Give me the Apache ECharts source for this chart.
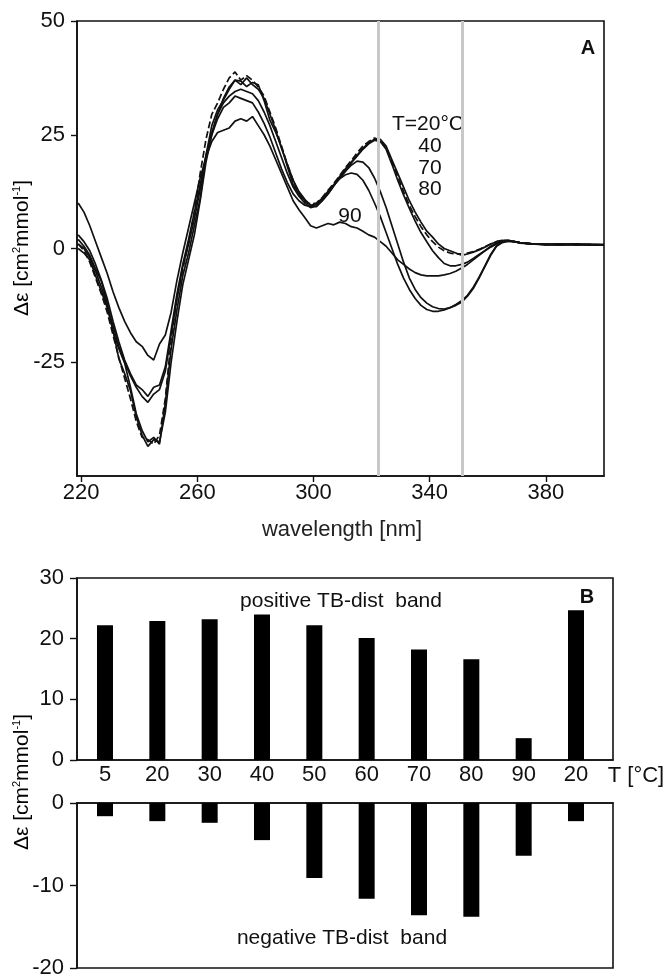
<!DOCTYPE html>
<html>
<head>
<meta charset="utf-8">
<script src="https://cdn.jsdelivr.net/npm/echarts@6/dist/echarts.min.js"></script>
<style>
html,body{margin:0;padding:0;background:#fff;}
#c{width:665px;height:979px;}
</style>
</head>
<body>
<div id="c"></div>
<script>
// ---------- Panel A data ----------
const wl = [219,221,223,225,227,229,231,233,235,237,239,241,243,245,247,249,251,253,255,257,259,261,263,265,267,269,271,273,275,277,279,281,283,285,287,289,291,293,295,297,299,301,303,305,307,309,311,313,315,317,319,321,323,325,327,329,331,333,335,337,339,341,343,345,347,349,351,353,355,357,359,361,363,365,367,369,371,375,380,385,390,395,400];

const cd20 = [2.0,0.5,-1.5,-4.5,-7.2,-12.0,-18.3,-22.0,-25.2,-30.5,-36.3,-40.0,-42.5,-41.5,-43.0,-34.0,-22.0,-13.5,-6.0,-1.0,5.0,11.0,20.5,27.0,30.5,32.6,35.0,37.0,36.8,35.6,36.5,36.0,32.5,28.2,25.5,22.3,18.0,14.0,12.0,10.5,9.5,9.8,11.0,12.5,14.0,15.8,17.5,19.0,20.5,22.0,23.2,24.0,24.0,22.5,19.5,16.5,13.5,10.5,8.0,5.8,3.8,2.5,1.0,0.0,-0.5,-1.0,-1.5,-1.2,-0.8,-0.3,0.3,1.0,1.5,1.8,1.7,1.5,1.2,1.0,0.9,0.8,1.0,0.8,0.8];

const cd40 = [0.0,-1.0,-2.5,-6.0,-9.5,-13.0,-18.0,-24.2,-27.5,-31.2,-37.0,-41.0,-43.5,-42.0,-42.5,-36.0,-25.0,-16.0,-8.0,-2.5,3.0,10.5,19.0,25.0,29.5,33.0,35.5,37.0,36.0,37.5,36.0,35.0,33.0,29.5,26.0,22.0,18.5,15.0,12.5,10.8,9.5,9.2,10.5,12.0,13.8,15.5,17.0,18.8,20.3,21.8,23.0,23.8,23.5,21.8,18.5,15.0,11.8,8.8,6.0,3.5,1.5,-0.5,-2.0,-3.3,-3.8,-3.8,-3.5,-3.0,-2.2,-1.3,-0.5,0.5,1.2,1.6,1.8,1.6,1.3,1.0,0.8,1.0,0.8,0.9,0.8];

const cd70 = [1.0,0.0,-2.0,-5.0,-8.5,-12.5,-17.0,-21.5,-25.0,-28.0,-30.5,-32.5,-33.8,-32.0,-31.0,-27.0,-19.0,-11.0,-4.0,1.0,6.5,13.0,20.0,25.5,29.5,32.0,33.5,34.5,35.0,34.5,34.0,32.5,30.0,27.0,23.5,20.0,16.5,13.5,11.5,10.0,9.0,9.3,10.5,12.0,13.8,15.5,17.0,18.3,19.2,19.0,17.8,15.5,12.5,9.0,5.0,1.0,-3.0,-6.5,-9.0,-10.8,-12.0,-12.8,-13.2,-13.3,-13.0,-12.5,-11.8,-10.5,-8.8,-6.5,-4.0,-1.5,0.5,1.3,1.6,1.5,1.3,1.1,0.9,0.8,1.0,0.8,0.9];

const cd80 = [3.0,1.5,-0.5,-3.5,-7.0,-11.0,-16.0,-20.5,-24.5,-27.5,-30.0,-31.0,-32.5,-30.5,-30.0,-26.0,-18.0,-10.0,-3.5,2.0,8.0,14.0,20.5,25.0,28.5,31.0,32.0,33.5,33.0,32.5,32.0,30.0,27.5,24.5,21.0,17.5,14.5,12.0,10.5,9.5,9.2,9.8,11.0,12.5,14.0,15.3,16.2,16.6,16.3,15.0,12.8,10.0,7.0,3.5,0.0,-3.5,-6.5,-9.0,-11.0,-12.5,-13.4,-13.8,-13.8,-13.5,-13.0,-12.3,-11.5,-10.3,-8.5,-6.3,-3.8,-1.3,0.6,1.4,1.7,1.5,1.3,1.0,0.9,1.0,0.8,0.9,0.8];

const cd90 = [10.0,8.0,5.0,1.5,-2.0,-5.5,-9.5,-13.0,-16.0,-18.5,-20.5,-21.5,-23.5,-24.5,-21.0,-19.0,-14.0,-7.0,-1.0,4.5,10.0,15.5,20.0,23.5,25.5,26.0,26.5,28.0,28.5,28.0,29.0,27.0,25.0,22.5,19.5,16.5,13.5,10.5,8.5,6.8,5.0,4.5,5.0,5.5,5.2,5.8,5.5,4.8,4.5,3.8,3.0,2.5,1.5,0.5,-1.0,-2.5,-3.5,-4.5,-5.3,-5.8,-6.0,-6.0,-6.0,-5.8,-5.5,-5.0,-4.3,-3.5,-2.5,-1.5,-0.5,0.3,1.0,1.5,1.6,1.5,1.3,1.0,0.9,0.8,0.9,0.8,0.8];

const cdDashed = [1.0,-0.5,-3.0,-6.5,-10.0,-14.0,-19.0,-24.0,-28.5,-33.0,-38.0,-41.5,-42.0,-43.0,-41.0,-33.0,-20.0,-11.0,-4.5,1.0,8.0,16.5,24.0,29.5,32.0,35.0,37.5,38.8,37.0,38.0,37.0,35.5,33.5,30.0,26.5,22.5,18.5,15.0,12.0,10.3,9.8,10.0,11.2,12.8,14.3,16.0,17.8,19.3,21.0,22.5,23.5,24.3,23.8,22.0,19.0,15.8,12.5,9.5,7.0,4.8,3.0,1.5,0.3,-0.5,-1.0,-1.2,-1.2,-1.0,-0.7,-0.2,0.4,1.0,1.5,1.8,1.8,1.5,1.3,1.0,0.9,0.9,0.8,0.9,0.8];

const grayLines = [322.3, 351.1];
const xTicksA = [220, 260, 300, 340, 380];
const yTicksA = [-25, 0, 25, 50];

// ---------- Panel B data ----------
const tempCats = ['5','20','30','40','50','60','70','80','90','20'];
const posBand = [22.2, 22.9, 23.2, 24.0, 22.2, 20.1, 18.2, 16.6, 3.6, 24.7];
const negBand = [-1.6, -2.2, -2.4, -4.5, -9.1, -11.6, -13.6, -13.8, -6.4, -2.2];

const FONT = 'Liberation Sans, Arial, Helvetica, sans-serif';
const BLACK = '#111';

const chart = echarts.init(document.getElementById('c'), null, {renderer:'canvas'});

function lineSeries(vals, dashed){
  return {
    type:'line', xAxisIndex:0, yAxisIndex:0, showSymbol:false, symbol:'none',
    data: wl.map((w,i)=>[w, vals[i]]),
    lineStyle:{color:BLACK, width:1.7, type: dashed ? [7,3] : 'solid'},
    z:3, silent:true, animation:false
  };
}

const ylabelRich = {
  a:{fontSize:21, fontFamily:FONT, color:'#222'},
  s:{fontSize:11, fontFamily:FONT, color:'#222', padding:[0,0,10,0]}
};

const axLine = {show:true, onZero:false, lineStyle:{color:BLACK, width:1.6}};

const option = {
  animation:false,
  backgroundColor:'#fff',
  grid:[
    {left:77, top:21, width:527, height:455, show:true, borderColor:BLACK, borderWidth:1.6, containLabel:false},
    {left:77, top:578, width:536, height:182, show:true, borderColor:BLACK, borderWidth:1.6, containLabel:false},
    {left:77, top:803, width:536, height:166, show:true, borderColor:BLACK, borderWidth:1.6, containLabel:false}
  ],
  xAxis:[
    {type:'value', gridIndex:0, min:218.6, max:400,
      axisLine:axLine,
      axisTick:{show:true, length:6, inside:false, customValues:xTicksA, lineStyle:{color:BLACK, width:1.4}},
      axisLabel:{show:true, customValues:xTicksA, margin:6, fontSize:22, fontFamily:FONT, color:BLACK},
      splitLine:{show:false}},
    {type:'value', gridIndex:1, min:-0.535, max:9.707,
      axisLine:axLine,
      axisTick:{show:false},
      axisLabel:{show:true, customValues:[0,1,2,3,4,5,6,7,8,9], margin:4, fontSize:22, fontFamily:FONT, color:BLACK,
        formatter:(v)=>tempCats[Math.round(v)]},
      splitLine:{show:false}},
    {type:'value', gridIndex:2, min:-0.535, max:9.707, position:'top',
      axisLine:axLine,
      axisTick:{show:false}, axisLabel:{show:false}, splitLine:{show:false}}
  ],
  yAxis:[
    {type:'value', gridIndex:0, min:-50, max:50,
      axisLine:axLine,
      axisTick:{show:true, length:6, customValues:yTicksA, lineStyle:{color:BLACK, width:1.4}},
      axisLabel:{show:true, customValues:yTicksA, margin:12, fontSize:22, fontFamily:FONT, color:BLACK},
      splitLine:{show:false}},
    {type:'value', gridIndex:1, min:0, max:30, interval:10,
      axisLine:axLine,
      axisTick:{show:true, length:7, lineStyle:{color:BLACK, width:1.4}},
      axisLabel:{show:true, margin:13, fontSize:22, fontFamily:FONT, color:BLACK},
      splitLine:{show:false}},
    {type:'value', gridIndex:2, min:-20, max:0, interval:10,
      axisLine:axLine,
      axisTick:{show:true, length:7, lineStyle:{color:BLACK, width:1.4}},
      axisLabel:{show:true, margin:13, fontSize:22, fontFamily:FONT, color:BLACK},
      splitLine:{show:false}}
  ],
  series:[
    {type:'line', xAxisIndex:0, yAxisIndex:0, data:[], z:1, silent:true,
      markLine:{symbol:['none','none'], silent:true, animation:false, label:{show:false},
        lineStyle:{color:'#c8c8c8', width:3, type:'solid'},
        data: grayLines.map(v=>({xAxis:v}))}},
    lineSeries(cd90,false),
    lineSeries(cd80,false),
    lineSeries(cd70,false),
    lineSeries(cd40,false),
    lineSeries(cd20,false),
    lineSeries(cdDashed,true),
    {type:'bar', xAxisIndex:1, yAxisIndex:1, barWidth:16, silent:true,
      itemStyle:{color:'#000'}, data: posBand.map((v,i)=>[i,v])},
    {type:'bar', xAxisIndex:2, yAxisIndex:2, barWidth:16, silent:true,
      itemStyle:{color:'#000'}, data: negBand.map((v,i)=>[i,v])}
  ],
  graphic:[
    {type:'text', x:22, y:248, rotation:Math.PI/2,
      style:{text:'{a|Δε [cm}{s|2}{a|mmol}{s|-1}{a|]}', rich:ylabelRich, align:'center', verticalAlign:'middle'}},
    {type:'text', x:22, y:782, rotation:Math.PI/2,
      style:{text:'{a|Δε [cm}{s|2}{a|mmol}{s|-1}{a|]}', rich:ylabelRich, align:'center', verticalAlign:'middle'}},
    {type:'text', x:342, y:530, style:{text:'wavelength [nm]', font:'22px '+FONT, fill:'#222', align:'center', verticalAlign:'middle'}},
    {type:'text', x:588, y:48, style:{text:'A', font:'bold 20px '+FONT, fill:BLACK, align:'center', verticalAlign:'middle'}},
    {type:'text', x:428, y:124, style:{text:'T=20°C', font:'21px '+FONT, fill:BLACK, align:'center', verticalAlign:'middle'}},
    {type:'text', x:430, y:146, style:{text:'40', font:'21px '+FONT, fill:BLACK, align:'center', verticalAlign:'middle'}},
    {type:'text', x:430, y:168, style:{text:'70', font:'21px '+FONT, fill:BLACK, align:'center', verticalAlign:'middle'}},
    {type:'text', x:430, y:189, style:{text:'80', font:'21px '+FONT, fill:BLACK, align:'center', verticalAlign:'middle'}},
    {type:'text', x:350, y:216, style:{text:'90', font:'21px '+FONT, fill:BLACK, align:'center', verticalAlign:'middle'}},
    {type:'text', x:341, y:601, style:{text:'positive TB-dist  band', font:'21px '+FONT, fill:BLACK, align:'center', verticalAlign:'middle'}},
    {type:'text', x:342, y:938, style:{text:'negative TB-dist  band', font:'21px '+FONT, fill:BLACK, align:'center', verticalAlign:'middle'}},
    {type:'text', x:587, y:597, style:{text:'B', font:'bold 20px '+FONT, fill:BLACK, align:'center', verticalAlign:'middle'}},
    {type:'text', x:636, y:776, style:{text:'T [°C]', font:'22px '+FONT, fill:BLACK, align:'center', verticalAlign:'middle'}}
  ]
};
chart.setOption(option);
</script>
</body>
</html>
